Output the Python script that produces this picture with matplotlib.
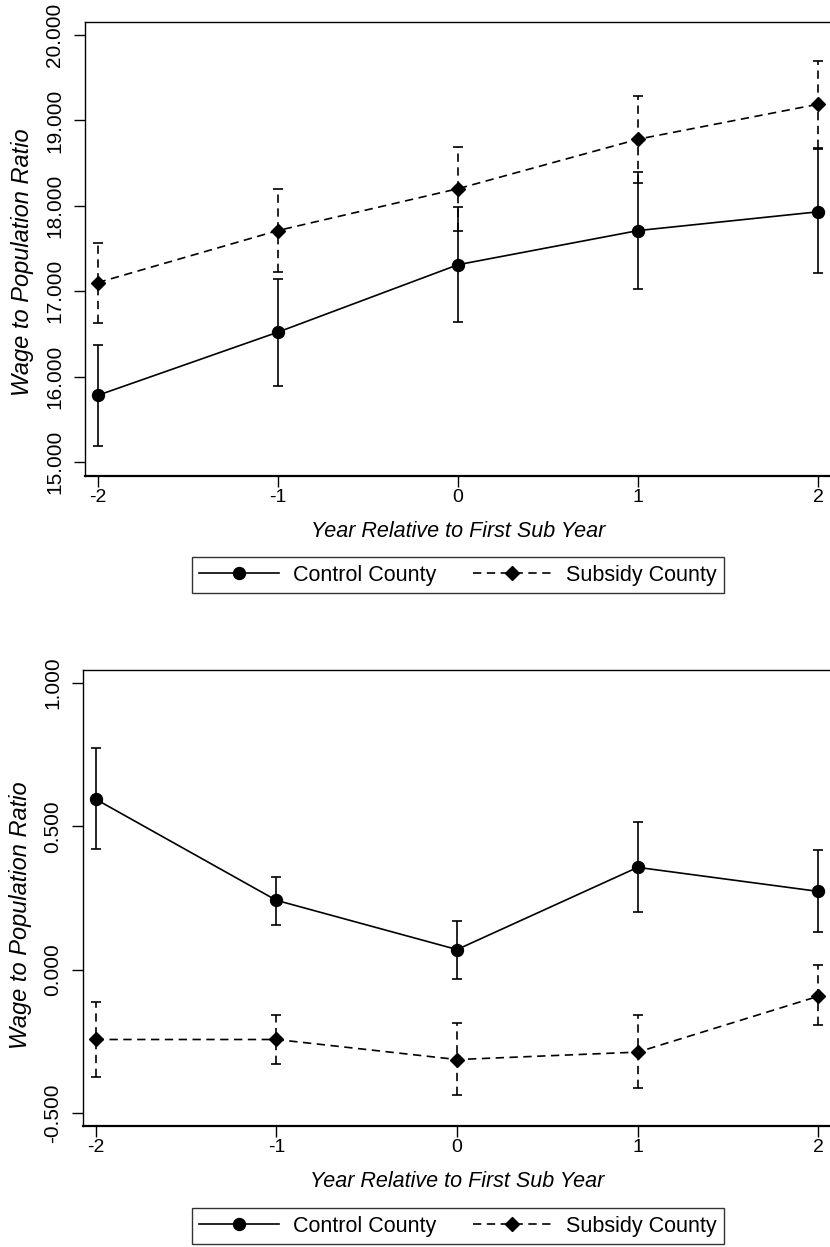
import matplotlib
matplotlib.use("Agg")
import matplotlib.pyplot as plt
from matplotlib.lines import Line2D

plt.rcParams['font.family'] = ['Liberation Sans', 'DejaVu Sans']

# ---------------- data ----------------
years = [-2, -1, 0, 1, 2]

# Panel 1
top_control = [15.78, 16.52, 17.31, 17.71, 17.93]
top_control_lo = [15.19, 15.89, 16.64, 17.03, 17.21]
top_control_hi = [16.37, 17.14, 17.99, 18.39, 18.66]
top_subsidy = [17.10, 17.71, 18.20, 18.78, 19.19]
top_subsidy_lo = [16.63, 17.22, 17.71, 18.27, 18.68]
top_subsidy_hi = [17.57, 18.20, 18.69, 19.29, 19.70]
top_yticks = [15, 16, 17, 18, 19, 20]

# Panel 2
bot_control = [0.595, 0.242, 0.070, 0.357, 0.273]
bot_control_lo = [0.421, 0.157, -0.032, 0.200, 0.132]
bot_control_hi = [0.773, 0.323, 0.171, 0.516, 0.416]
bot_subsidy = [-0.244, -0.244, -0.314, -0.288, -0.093]
bot_subsidy_lo = [-0.374, -0.328, -0.438, -0.413, -0.195]
bot_subsidy_hi = [-0.114, -0.160, -0.188, -0.160, 0.015]
bot_yticks = [-0.5, 0.0, 0.5, 1.0]

series_names = ["Control County", "Subsidy County"]
xlabel = "Year Relative to First Sub Year"
ylabel = "Wage to Population Ratio"

# ---------------- figure ----------------
W, H = 830, 1247
fig = plt.figure(figsize=(W / 100, H / 100), dpi=100)

LW = 1.2
DASH = (0, (5, 3.3))
CAP = 3.6


def px(x0, y0, x1, y1):
    return [x0 / W, 1 - y1 / H, (x1 - x0) / W, (y1 - y0) / H]


def draw_panel(ax, ctrl, clo, chi, sub, slo, shi, yticks, ylim, ylab_y):
    # subsidy (dashed, diamonds)
    e2 = ax.errorbar(years, sub,
                     yerr=[[s - l for s, l in zip(sub, slo)], [h - s for s, h in zip(sub, shi)]],
                     fmt='none', ecolor='black', elinewidth=LW, capsize=CAP, capthick=LW, zorder=2)
    for lc in e2[2]:
        lc.set_linestyle(DASH)
    ax.plot(years, sub, color='black', lw=LW, linestyle=DASH, marker='D', ms=7.6,
            mfc='black', mec='black', zorder=3)
    # control (solid, circles)
    ax.errorbar(years, ctrl,
                yerr=[[c - l for c, l in zip(ctrl, clo)], [h - c for c, h in zip(ctrl, chi)]],
                fmt='none', ecolor='black', elinewidth=LW, capsize=CAP, capthick=LW, zorder=2)
    ax.plot(years, ctrl, color='black', lw=LW, linestyle='-', marker='o', ms=8.6,
            mfc='black', mec='black', zorder=3)

    ax.set_xlim(-2.07, 2.07)
    ax.set_ylim(*ylim)
    ax.set_xticks(years)
    ax.set_xticklabels([str(y) for y in years])
    ax.set_yticks(yticks)
    ax.set_yticklabels(["{:.3f}".format(v) for v in yticks], rotation=90, va='center')
    ax.tick_params(axis='y', direction='out', length=8, width=1.0, labelsize=15, pad=7)
    ax.tick_params(axis='x', direction='out', length=8, width=1.0, labelsize=14, pad=1.5)
    for s in ax.spines.values():
        s.set_linewidth(1.0)
    ax.spines['bottom'].set_linewidth(1.6)
    ax.set_xlabel(xlabel, fontsize=15.5, style='italic', labelpad=11)
    ax.set_ylabel(ylabel, fontsize=17, style='italic', labelpad=5)
    ax.yaxis.set_label_coords(-0.068, ylab_y)


ax1 = fig.add_axes(px(85, 22, 831, 476))
draw_panel(ax1, top_control, top_control_lo, top_control_hi,
           top_subsidy, top_subsidy_lo, top_subsidy_hi, top_yticks, (14.836, 20.152), 0.471)

ax2 = fig.add_axes(px(83, 670, 831, 1126))
draw_panel(ax2, bot_control, bot_control_lo, bot_control_hi,
           bot_subsidy, bot_subsidy_lo, bot_subsidy_hi, bot_yticks, (-0.546, 1.046), 0.463)

handles = [
    Line2D([], [], color='black', lw=LW, linestyle='-', marker='o', ms=8.6),
    Line2D([], [], color='black', lw=LW, linestyle=DASH, marker='D', ms=7.6),
]

for ytop in (557, 1208):
    leg = fig.legend(handles, series_names, loc='upper center', ncol=2,
                     bbox_to_anchor=(458 / W, 1 - ytop / H), bbox_transform=fig.transFigure,
                     fontsize=15.5, frameon=True, fancybox=False, edgecolor='black',
                     handlelength=3.7, handletextpad=0.65, columnspacing=1.7,
                     borderpad=0.35, borderaxespad=0, numpoints=1)
    leg.get_frame().set_linewidth(1.0)

fig.savefig("out.png", dpi=100)
